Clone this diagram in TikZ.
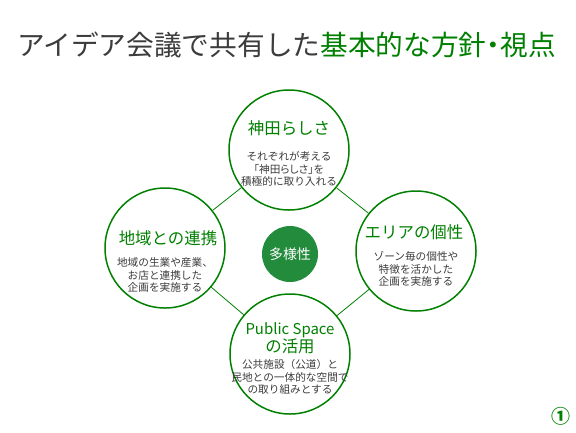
\documentclass[tikz,border=0pt]{standalone}
\usepackage{fontspec}
\setmainfont{Noto Sans CJK JP}
\definecolor{kgreen}{RGB}{0,128,0}
\definecolor{kfill}{RGB}{34,139,60}
\definecolor{kgray}{RGB}{60,60,60}
\tikzset{
  ring/.style={circle, draw=kgreen, line width=1.5pt, minimum size=120bp, inner sep=0pt},
  head/.style={text=kgreen, align=center, font=\fontsize{16.5}{18}\selectfont},
  body/.style={text=kgray, align=center, font=\fontsize{10.7}{12.8}\selectfont},
  link/.style={draw=kgreen, line width=0.8pt}
}
\newcommand{\tight}[1]{{\addfontfeatures{RawFeature=+palt}#1}}
\begin{document}
\begin{tikzpicture}[x=1bp,y=-1bp]
\useasboundingbox[fill=white] (0,0) rectangle (576,432);

% Title
\node[anchor=west, inner sep=0pt, font=\fontsize{27.8}{30}\selectfont] (title) at (17,45)
  {\textcolor{kgray}{アイデア会議で共有した}\textcolor{kgreen}{基本的な方針\tight{・}視点}};

% Four circles
\node[ring] (kanda) at (289,150) {};
\node[ring] (chiiki) at (165,248) {};
\node[ring] (area) at (416,251) {};
\node[ring] (public) at (290,354) {};

% Links between circles
\draw[link] (kanda) -- (chiiki);
\draw[link] (kanda) -- (area);
\draw[link] (chiiki) -- (public);
\draw[link] (area) -- (public);

% Centre
\node[circle, fill=kfill, minimum size=56bp, text=white, font=\fontsize{14}{16}\selectfont] (tayou) at (290,254) {多様性};

% Texts inside the circles
\node[head] (kandahead) at (289,128) {神田らしさ};
\node[body] (kandabody) at (289,169) {それぞれが考える\\\tight{「神田らしさ」}を\\積極的に取り入れる};

\node[head] (chiikihead) at (168,238) {地域との連携};
\node[body] (chiikibody) at (165,275) {地域の生業や産業、\\お店と連携した\\企画を実施する};

\node[head] (areahead) at (414,232) {エリアの個性};
\node[body] (areabody) at (416,269) {ゾーン毎の個性や\\特徴を活かした\\企画を実施する};

\node[head] (publichead) at (290,338) {{\fontsize{15}{18}\selectfont Public Space}\\の活用};
\node[body] (publicbody) at (290,377) {公共施設（公道）と\\民地との一体的な空間で\\の取り組みとする};

% Page number
\node[text=kgreen, font=\fontsize{19}{21}\selectfont\bfseries] (pageno) at (561,416) {①};
\end{tikzpicture}
\end{document}
